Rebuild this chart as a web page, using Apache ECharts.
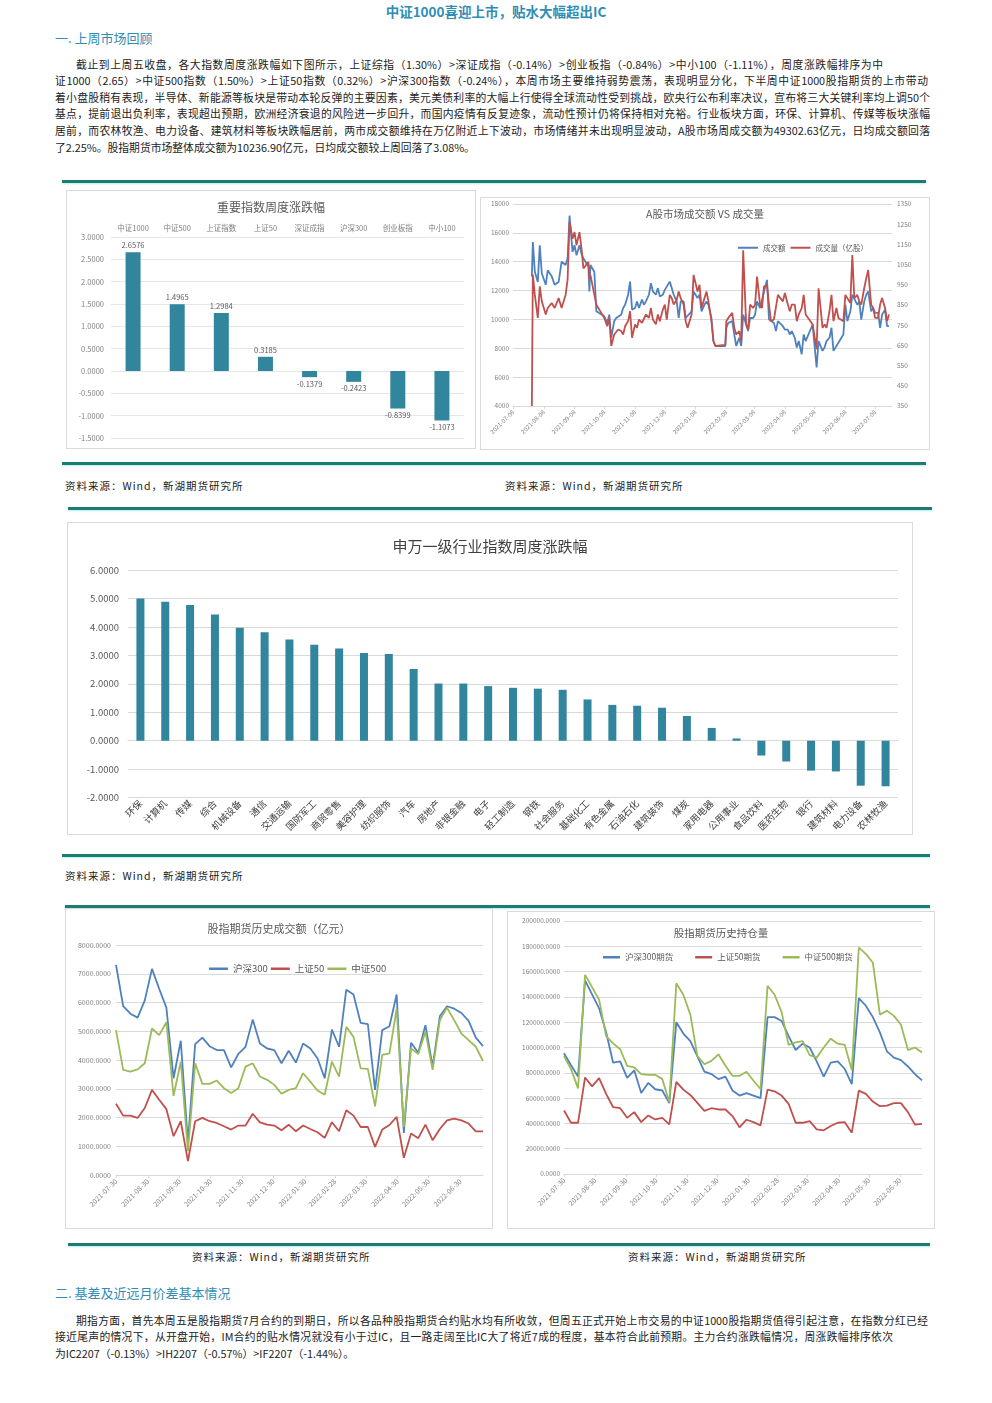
<!DOCTYPE html>
<html>
<head>
<meta charset="utf-8">
<script src="https://cdn.jsdelivr.net/npm/echarts@6/dist/echarts.min.js"></script>
<style>
body{margin:0;background:#fff;font-family:'Noto Sans CJK SC',sans-serif;color:#222}
#page{position:relative;width:992px;height:1403px;overflow:hidden}
.h1{position:absolute;left:0;width:992px;top:1px;text-align:center;font-size:13.5px;font-weight:bold;color:#2f8db5}
.h2{position:absolute;left:55px;font-size:13px;color:#2f8db5}
.ln{position:absolute;font-size:10.8px;line-height:14px;text-align:justify;text-align-last:justify}
.last{text-align-last:left}
.rule{position:absolute;height:3px;background:#1c7b72;box-shadow:0 1px 2px #b8ecea}
.src{position:absolute;font-size:10.5px;letter-spacing:1px;color:#222}
.box{position:absolute;border:1px solid #d9d9d9;box-sizing:border-box}
.box div{width:100%;height:100%}
</style>
</head>
<body>
<div id="page">
  <div class="h1">中证1000喜迎上市，贴水大幅超出IC</div>
  <div class="h2" style="top:28px">一. 上周市场回顾</div>

  <div class="ln" style="left:76px;top:57px;width:807px">截止到上周五收盘，各大指数周度涨跌幅如下图所示，上证综指（1.30%）&gt;深证成指（-0.14%）&gt;创业板指（-0.84%）&gt;中小100（-1.11%），周度涨跌幅排序为中</div>
  <div class="ln" style="left:55px;top:73px;width:873px">证1000（2.65）&gt;中证500指数（1.50%）&gt;上证50指数（0.32%）&gt;沪深300指数（-0.24%），本周市场主要维持弱势震荡，表现明显分化，下半周中证1000股指期货的上市带动</div>
  <div class="ln" style="left:55px;top:90px;width:875px">着小盘股稍有表现，半导体、新能源等板块是带动本轮反弹的主要因素，美元美债利率的大幅上行使得全球流动性受到挑战，欧央行公布利率决议，宣布将三大关键利率均上调50个</div>
  <div class="ln" style="left:55px;top:106px;width:875px">基点，提前退出负利率，表现超出预期，欧洲经济衰退的风险进一步回升，而国内疫情有反复迹象，流动性预计仍将保持相对充裕。行业板块方面，环保、计算机、传媒等板块涨幅</div>
  <div class="ln" style="left:55px;top:123px;width:875px">居前，而农林牧渔、电力设备、建筑材料等板块跌幅居前，两市成交额维持在万亿附近上下波动，市场情绪并未出现明显波动，A股市场周成交额为49302.63亿元，日均成交额回落</div>
  <div class="ln last" style="left:55px;top:140px;width:875px">了2.25%。股指期货市场整体成交额为10236.90亿元，日均成交额较上周回落了3.08%。</div>

  <div class="rule" style="left:62px;top:180px;width:864px"></div>
  <div class="box" style="left:66px;top:190px;width:410px;height:259px"><div id="c1"></div></div>
  <div class="box" style="left:480px;top:197px;width:450px;height:253px"><div id="c2"></div></div>
  <div class="rule" style="left:62px;top:462px;width:864px"></div>
  <div class="src" style="left:65px;top:478px">资料来源：Wind，新湖期货研究所</div>
  <div class="src" style="left:505px;top:478px">资料来源：Wind，新湖期货研究所</div>

  <div class="rule" style="left:68px;top:507px;width:864px"></div>
  <div class="box" style="left:67px;top:522px;width:846px;height:313px"><div id="c3"></div></div>
  <div class="rule" style="left:62px;top:854px;width:868px"></div>
  <div class="src" style="left:65px;top:868px">资料来源：Wind，新湖期货研究所</div>

  <div class="rule" style="left:65px;top:905px;width:865px"></div>
  <div class="box" style="left:65px;top:908px;width:428px;height:321px"><div id="c4"></div></div>
  <div class="box" style="left:507px;top:911px;width:428px;height:318px"><div id="c5"></div></div>
  <div class="rule" style="left:68px;top:1243px;width:862px"></div>
  <div class="src" style="left:192px;top:1249px">资料来源：Wind，新湖期货研究所</div>
  <div class="src" style="left:628px;top:1249px">资料来源：Wind，新湖期货研究所</div>

  <div class="h2" style="top:1283px">二. 基差及近远月价差基本情况</div>
  <div class="ln" style="left:76px;top:1313px;width:852px">期指方面，首先本周五是股指期货7月合约的到期日，所以各品种股指期货合约贴水均有所收敛，但周五正式开始上市交易的中证1000股指期货值得引起注意，在指数分红已经</div>
  <div class="ln" style="left:55px;top:1329px;width:838px">接近尾声的情况下，从开盘开始，IM合约的贴水情况就没有小于过IC，且一路走阔至比IC大了将近7成的程度，基本符合此前预期。主力合约涨跌幅情况，周涨跌幅排序依次</div>
  <div class="ln last" style="left:55px;top:1346px;width:600px">为IC2207（-0.13%）&gt;IH2207（-0.57%）&gt;IF2207（-1.44%）。</div>
</div>

<script>
// 重要指数周度涨跌幅
const idxNames = ['中证1000', '中证500', '上证指数', '上证50', '深证成指', '沪深300', '创业板指', '中小100']
const idxChange = [2.6576, 1.4965, 1.2984, 0.3185, -0.1379, -0.2423, -0.8399, -1.1073]

// A股市场成交额 VS 成交量
const volDates = [
  '2021-07-27', '2021-07-28', '2021-07-30', '2021-08-02', '2021-08-04', '2021-08-06', '2021-08-10', '2021-08-12', '2021-08-16', '2021-08-19',
  '2021-08-23', '2021-08-26', '2021-08-30', '2021-09-01', '2021-09-03', '2021-09-06', '2021-09-08', '2021-09-10', '2021-09-13', '2021-09-15',
  '2021-09-17', '2021-09-22', '2021-09-23', '2021-09-24', '2021-09-28', '2021-09-30', '2021-10-08', '2021-10-11', '2021-10-13', '2021-10-15',
  '2021-10-18', '2021-10-20', '2021-10-22', '2021-10-25', '2021-10-27', '2021-10-29', '2021-11-01', '2021-11-03', '2021-11-05', '2021-11-08',
  '2021-11-10', '2021-11-12', '2021-11-15', '2021-11-17', '2021-11-19', '2021-11-22', '2021-11-24', '2021-11-26', '2021-11-29', '2021-12-01',
  '2021-12-03', '2021-12-06', '2021-12-08', '2021-12-10', '2021-12-13', '2021-12-15', '2021-12-17', '2021-12-20', '2021-12-22', '2021-12-24',
  '2021-12-27', '2021-12-29', '2021-12-31', '2022-01-04', '2022-01-06', '2022-01-10', '2022-01-12', '2022-01-14', '2022-01-17', '2022-01-19',
  '2022-01-21', '2022-01-24', '2022-01-26', '2022-01-28', '2022-02-07', '2022-02-08', '2022-02-10', '2022-02-14', '2022-02-16', '2022-02-18',
  '2022-02-21', '2022-02-23', '2022-02-25', '2022-02-28', '2022-03-02', '2022-03-04', '2022-03-07', '2022-03-09', '2022-03-11', '2022-03-14',
  '2022-03-16', '2022-03-18', '2022-03-21', '2022-03-23', '2022-03-25', '2022-03-28', '2022-03-30', '2022-04-01', '2022-04-06', '2022-04-08',
  '2022-04-11', '2022-04-13', '2022-04-15', '2022-04-18', '2022-04-20', '2022-04-22', '2022-04-25', '2022-04-27', '2022-04-29', '2022-05-06',
  '2022-05-10', '2022-05-12', '2022-05-16', '2022-05-18', '2022-05-20', '2022-05-23', '2022-05-25', '2022-05-27', '2022-05-30', '2022-06-01',
  '2022-06-06', '2022-06-08', '2022-06-10', '2022-06-13', '2022-06-15', '2022-06-17', '2022-06-20', '2022-06-22', '2022-06-24', '2022-06-27',
  '2022-06-29', '2022-07-01', '2022-07-04', '2022-07-06', '2022-07-08', '2022-07-11', '2022-07-13', '2022-07-15', '2022-07-18', '2022-07-20', '2022-07-22'
]
const turnover = [
  12970, 15370, 13300, 12600, 15140, 13200, 12400, 13400, 13000, 12400,
  12600, 14000, 13770, 14225, 17200, 14680, 15140, 14450, 15140, 14570,
  14225, 13650, 11940, 13770, 13300, 10560, 10220, 9760, 10330, 8730,
  9880, 10100, 10100, 10330, 10790, 11020, 11710, 12620, 10680, 10790,
  11250, 10790, 11370, 11020, 11250, 11710, 12510, 11940, 11710, 12170,
  11600, 11710, 12050, 11940, 12620, 12170, 11710, 11250, 10100, 11250,
  11250, 10100, 9990, 10560, 11940, 11480, 11710, 10560, 11020, 11250,
  11020, 10100, 8500, 8160, 8160, 9420, 9760, 9880, 8960, 8160,
  8730, 8160, 10330, 9650, 9190, 10100, 10100, 10330, 11250, 10790,
  10680, 11940, 12740, 9990, 9880, 9760, 9190, 9880, 9530, 9300,
  9300, 8960, 9190, 8730, 8050, 8500, 7590, 8960, 8500, 9650,
  6670, 8500, 7820, 8050, 8500, 8730, 9420, 7820, 8160, 8050,
  8960, 11020, 9880, 10560, 11710, 11710, 11020, 11250, 9990, 11250,
  11710, 11940, 10560, 10790, 10450, 10450, 9420, 10330, 10680, 9530, 9530
]
const volume = [
  350, 1000, 900, 786, 942, 868, 803, 835, 860, 835,
  884, 835, 900, 974, 1260, 1178, 1211, 1146, 1211, 1130,
  1031, 1064, 982, 999, 900, 852, 786, 745, 786, 647,
  704, 713, 729, 721, 704, 745, 770, 819, 688, 754,
  737, 778, 762, 770, 803, 786, 835, 778, 754, 803,
  770, 827, 852, 778, 900, 884, 852, 876, 917, 884,
  852, 770, 737, 803, 999, 917, 950, 835, 884, 917,
  868, 770, 672, 647, 652, 770, 786, 811, 737, 704,
  721, 672, 1121, 754, 729, 852, 835, 852, 991, 852,
  835, 942, 950, 852, 770, 778, 778, 900, 868, 909,
  852, 819, 852, 852, 770, 803, 835, 900, 803, 754,
  631, 933, 737, 754, 737, 819, 900, 770, 835, 786,
  770, 900, 884, 860, 1097, 884, 900, 868, 852, 933,
  982, 1023, 852, 835, 786, 786, 852, 884, 835, 770, 803
]
const volTicks = ['2021-07-08', '2021-08-08', '2021-09-08', '2021-10-08', '2021-11-08', '2021-12-08', '2022-01-08',
  '2022-02-08', '2022-03-08', '2022-04-08', '2022-05-08', '2022-06-08', '2022-07-08']

// 申万一级行业指数周度涨跌幅
const swNames = ['环保', '计算机', '传媒', '综合', '机械设备', '通信', '交通运输', '国防军工', '商贸零售', '美容护理',
  '纺织服饰', '汽车', '房地产', '非银金融', '电子', '轻工制造', '钢铁', '社会服务', '基础化工', '有色金属',
  '石油石化', '建筑装饰', '煤炭', '家用电器', '公用事业', '食品饮料', '医药生物', '银行', '建筑材料', '电力设备', '农林牧渔']
const swChange = [5.00, 4.88, 4.77, 4.44, 3.97, 3.81, 3.56, 3.37, 3.24, 3.08,
  3.05, 2.52, 2.01, 2.01, 1.92, 1.86, 1.83, 1.79, 1.45, 1.26,
  1.23, 1.16, 0.87, 0.45, 0.08, -0.52, -0.73, -1.05, -1.08, -1.58, -1.60]

// 股指期货周度数据
const weeks = [
  '2021-07-30', '2021-08-06', '2021-08-13', '2021-08-20', '2021-08-27', '2021-09-03', '2021-09-10', '2021-09-17', '2021-09-24', '2021-10-01',
  '2021-10-08', '2021-10-15', '2021-10-22', '2021-10-29', '2021-11-05', '2021-11-12', '2021-11-19', '2021-11-26', '2021-12-03', '2021-12-10',
  '2021-12-17', '2021-12-24', '2021-12-31', '2022-01-07', '2022-01-14', '2022-01-21', '2022-01-28', '2022-02-04', '2022-02-11', '2022-02-18',
  '2022-02-25', '2022-03-04', '2022-03-11', '2022-03-18', '2022-03-25', '2022-04-01', '2022-04-08', '2022-04-15', '2022-04-22', '2022-04-29',
  '2022-05-06', '2022-05-13', '2022-05-20', '2022-05-27', '2022-06-03', '2022-06-10', '2022-06-17', '2022-06-24', '2022-07-01', '2022-07-08',
  '2022-07-15', '2022-07-22'
]
const weekTicks = ['2021-07-30', '2021-08-30', '2021-09-30', '2021-10-30', '2021-11-30', '2021-12-30',
  '2022-01-30', '2022-02-28', '2022-03-30', '2022-04-30', '2022-05-30', '2022-06-30']

// 成交额（亿元）
const amtIF = [7310, 5870, 5610, 5475, 6075, 7170, 6480, 5820, 3365, 4670,
  1120, 4550, 4780, 4480, 4345, 4345, 3745, 4210, 4460, 5405,
  4575, 4400, 4345, 3885, 4320, 3910, 4575, 4400, 4060, 3365,
  5060, 4460, 6445, 6280, 5290, 5245, 2960, 5040, 5175, 6280,
  1465, 4600, 4255, 5210, 3770, 5520, 5870, 5785, 5635, 5360,
  4780, 4485]
const amtIH = [2480, 2065, 2065, 1985, 2330, 2960, 2615, 2290, 1350, 1870,
  485, 1870, 1985, 1870, 1810, 1695, 1580, 1720, 1720, 2130,
  1830, 1750, 1720, 1555, 1750, 1520, 1720, 1600, 1485, 1290,
  1835, 1520, 2250, 2065, 1670, 1670, 980, 1580, 1740, 2020,
  600, 1440, 1280, 1750, 1210, 1600, 1900, 1960, 1900, 1790,
  1520, 1520]
const amtIC = [5040, 3655, 3595, 3675, 3885, 5095, 4865, 5315, 2755, 3940,
  830, 3885, 3170, 3170, 3285, 3020, 2850, 3020, 3770, 3885,
  3425, 3310, 3135, 2825, 2960, 3020, 3540, 3250, 2940, 2790,
  3940, 3425, 5155, 4805, 3710, 3690, 2385, 4175, 4230, 5785,
  1670, 4405, 4210, 4980, 3655, 5385, 5820, 5385, 4920, 4690,
  4460, 3965]

// 持仓量
const oiIF = [95400, 86000, 77000, 153000, 142000, 131000, 112000, 88000, 89000, 76000,
  82000, 64000, 72000, 67000, 66000, 56000, 120000, 111000, 105000, 93000,
  81000, 79000, 75000, 77000, 66000, 62000, 64000, 62000, 60000, 124000,
  124000, 121000, 109000, 98000, 103000, 100000, 89000, 77000, 88000, 89000,
  83000, 71000, 139000, 133000, 124000, 112000, 97000, 92000, 90000, 85000,
  79000, 74000]
const oiIH = [50200, 40500, 40500, 76300, 69300, 75800, 63300, 52800, 52000, 44400,
  48900, 41000, 46300, 43100, 44400, 39200, 72900, 66700, 62500, 56200,
  49900, 52000, 51000, 51000, 45800, 36900, 42900, 41000, 38400, 66700,
  65400, 62000, 55400, 40500, 40500, 41800, 35300, 34500, 37900, 40500,
  41000, 32700, 65900, 63300, 57300, 53600, 54100, 56000, 56000, 48900,
  39000, 39700]
const oiIC = [93300, 82900, 67700, 157400, 147700, 137800, 109000, 103300, 98600, 85500,
  84200, 79000, 78400, 78400, 75000, 56700, 150800, 141700, 126000, 93300,
  86800, 89400, 94600, 85500, 77600, 77600, 80800, 73700, 67200, 148800,
  141700, 128000, 102000, 104000, 105000, 94000, 92000, 100000, 107000, 103000,
  102000, 82000, 179000, 174000, 167000, 126000, 129000, 125000, 118000, 98000,
  100000, 96000]

const FF = 'Noto Sans CJK SC'
const BLUE = '#4f81bd'
const RED = '#c0504d'
const GREEN = '#9bbb59'
const BAR = '#31859c'
const GRID = '#d9d9d9'

const toTs = s => new Date(s + 'T00:00:00').getTime()
const fmtDate = v => {
  const d = new Date(v)
  return d.getFullYear() + '-' + String(d.getMonth() + 1).padStart(2, '0') + '-' + String(d.getDate()).padStart(2, '0')
}
const zip = (xs, ys) => xs.map((x, i) => [toTs(x), ys[i]])

// dates kept as timestamps on a value axis so ticks can sit on the month days used in the source
function dateAxis(ticks, min, max, fontSize) {
  const vals = ticks.map(toTs)
  return {
    type: 'value',
    min: toTs(min),
    max: toTs(max),
    axisLine: { show: true, onZero: false, lineStyle: { color: GRID } },
    axisTick: { show: true, customValues: vals, length: 3, lineStyle: { color: GRID } },
    splitLine: { show: false },
    axisLabel: {
      customValues: vals,
      rotate: 45,
      fontSize: fontSize,
      fontFamily: FF,
      color: '#7f7f7f',
      margin: 5,
      formatter: v => fmtDate(v)
    }
  }
}

function line(name, data, color, yAxisIndex) {
  return {
    name: name,
    type: 'line',
    data: data,
    yAxisIndex: yAxisIndex || 0,
    showSymbol: false,
    symbol: 'none',
    lineStyle: { width: 1.8, color: color },
    itemStyle: { color: color }
  }
}

function titleOf(text, top, size) {
  return { text: text, left: 'center', top: top, textStyle: { fontSize: size, fontWeight: 'normal', color: '#595959', fontFamily: FF } }
}

const c1 = echarts.init(document.getElementById('c1'))
c1.setOption({
  animation: false,
  title: titleOf('重要指数周度涨跌幅', 5, 12),
  grid: { left: 44, right: 11, top: 46, bottom: 10 },
  xAxis: {
    type: 'category',
    position: 'top',
    data: idxNames,
    axisLine: { show: false },
    axisTick: { show: false },
    axisLabel: { fontSize: 7.5, color: '#7f7f7f', fontFamily: FF, margin: 5 }
  },
  yAxis: {
    type: 'value',
    min: -1.5,
    max: 3,
    interval: 0.5,
    axisLine: { show: false },
    axisTick: { show: false },
    axisLabel: { fontSize: 7.5, color: '#7f7f7f', fontFamily: FF, margin: 7, formatter: v => v.toFixed(4) },
    splitLine: { lineStyle: { color: '#e6e6e6' } }
  },
  series: [{
    type: 'bar',
    data: idxChange,
    barWidth: 15,
    itemStyle: { color: BAR },
    label: { show: true, position: 'outside', fontSize: 7.5, color: '#595959', fontFamily: FF, distance: 3, formatter: p => p.value.toFixed(4) }
  }]
})

const c2 = echarts.init(document.getElementById('c2'))
c2.setOption({
  animation: false,
  title: titleOf('A股市场成交额 VS 成交量', 6, 10.5),
  legend: {
    top: 41,
    left: 252,
    icon: 'rect',
    itemWidth: 20,
    itemHeight: 2,
    itemGap: 5,
    textStyle: { fontSize: 7.5, color: '#595959', fontFamily: FF },
    data: ['成交额', '成交量（亿股）']
  },
  grid: { left: 32, right: 37, top: 6, bottom: 43 },
  xAxis: dateAxis(volTicks, '2021-07-08', '2022-07-25', 6),
  yAxis: [{
    type: 'value',
    min: 4000,
    max: 18000,
    interval: 2000,
    axisLine: { show: false },
    axisTick: { show: false },
    axisLabel: { fontSize: 6.5, color: '#7f7f7f', fontFamily: FF, margin: 4, formatter: v => String(v) },
    splitLine: { lineStyle: { color: GRID } }
  }, {
    type: 'value',
    min: 350,
    max: 1350,
    interval: 100,
    axisLine: { show: false },
    axisTick: { show: false },
    axisLabel: { fontSize: 6.5, color: '#7f7f7f', fontFamily: FF, margin: 5, formatter: v => String(v) },
    splitLine: { show: false }
  }],
  series: [
    line('成交额', zip(volDates, turnover), BLUE),
    line('成交量（亿股）', zip(volDates, volume), RED, 1)
  ]
})

const c3 = echarts.init(document.getElementById('c3'))
c3.setOption({
  animation: false,
  title: { text: '申万一级行业指数周度涨跌幅', left: 'center', top: 11, textStyle: { fontSize: 15, fontWeight: 'normal', color: '#404040', fontFamily: FF } },
  grid: { left: 60, right: 14, top: 47, bottom: 12 },
  xAxis: {
    type: 'category',
    data: swNames,
    axisLine: { show: true, onZero: true, lineStyle: { color: GRID } },
    axisTick: { show: false },
    axisLabel: { rotate: 45, interval: 0, fontSize: 9.5, color: '#404040', fontFamily: FF, margin: 4 }
  },
  yAxis: {
    type: 'value',
    min: -2,
    max: 6,
    interval: 1,
    axisLine: { show: false },
    axisTick: { show: false },
    axisLabel: { fontSize: 9.5, color: '#595959', fontFamily: FF, margin: 9, formatter: v => v.toFixed(4) },
    splitLine: { lineStyle: { color: GRID } }
  },
  series: [{ type: 'bar', data: swChange, barWidth: 8, itemStyle: { color: BAR } }]
})

const c4 = echarts.init(document.getElementById('c4'))
c4.setOption({
  animation: false,
  title: titleOf('股指期货历史成交额（亿元）', 9, 11),
  legend: {
    top: 50,
    left: 138,
    icon: 'rect',
    itemWidth: 19,
    itemHeight: 2.5,
    itemGap: 3,
    textStyle: { fontSize: 9.5, color: '#595959', fontFamily: FF },
    data: ['沪深300', '上证50', '中证500']
  },
  grid: { left: 50, right: 9, top: 36, bottom: 53 },
  xAxis: dateAxis(weekTicks, '2021-07-30', '2022-07-22', 7),
  yAxis: {
    type: 'value',
    min: 0,
    max: 8000,
    interval: 1000,
    axisLine: { show: false },
    axisTick: { show: false },
    axisLabel: { fontSize: 7, color: '#7f7f7f', fontFamily: FF, margin: 5, formatter: v => v.toFixed(4) },
    splitLine: { lineStyle: { color: GRID } }
  },
  series: [
    line('沪深300', zip(weeks, amtIF), BLUE),
    line('上证50', zip(weeks, amtIH), RED),
    line('中证500', zip(weeks, amtIC), GREEN)
  ]
})

const c5 = echarts.init(document.getElementById('c5'))
c5.setOption({
  animation: false,
  title: titleOf('股指期货历史持仓量', 11, 10.5),
  legend: {
    top: 36,
    left: 90,
    icon: 'rect',
    itemWidth: 17,
    itemHeight: 2.5,
    itemGap: 22,
    textStyle: { fontSize: 8.5, color: '#595959', fontFamily: FF },
    data: ['沪深300期货', '上证50期货', '中证500期货']
  },
  grid: { left: 56, right: 12, top: 9, bottom: 54 },
  xAxis: dateAxis(weekTicks, '2021-07-30', '2022-07-22', 7),
  yAxis: {
    type: 'value',
    min: 0,
    max: 200000,
    interval: 20000,
    axisLine: { show: false },
    axisTick: { show: false },
    axisLabel: { fontSize: 6.5, color: '#7f7f7f', fontFamily: FF, margin: 4, formatter: v => v.toFixed(4) },
    splitLine: { lineStyle: { color: GRID } }
  },
  series: [
    line('沪深300期货', zip(weeks, oiIF), BLUE),
    line('上证50期货', zip(weeks, oiIH), RED),
    line('中证500期货', zip(weeks, oiIC), GREEN)
  ]
})
</script>
</body>
</html>
